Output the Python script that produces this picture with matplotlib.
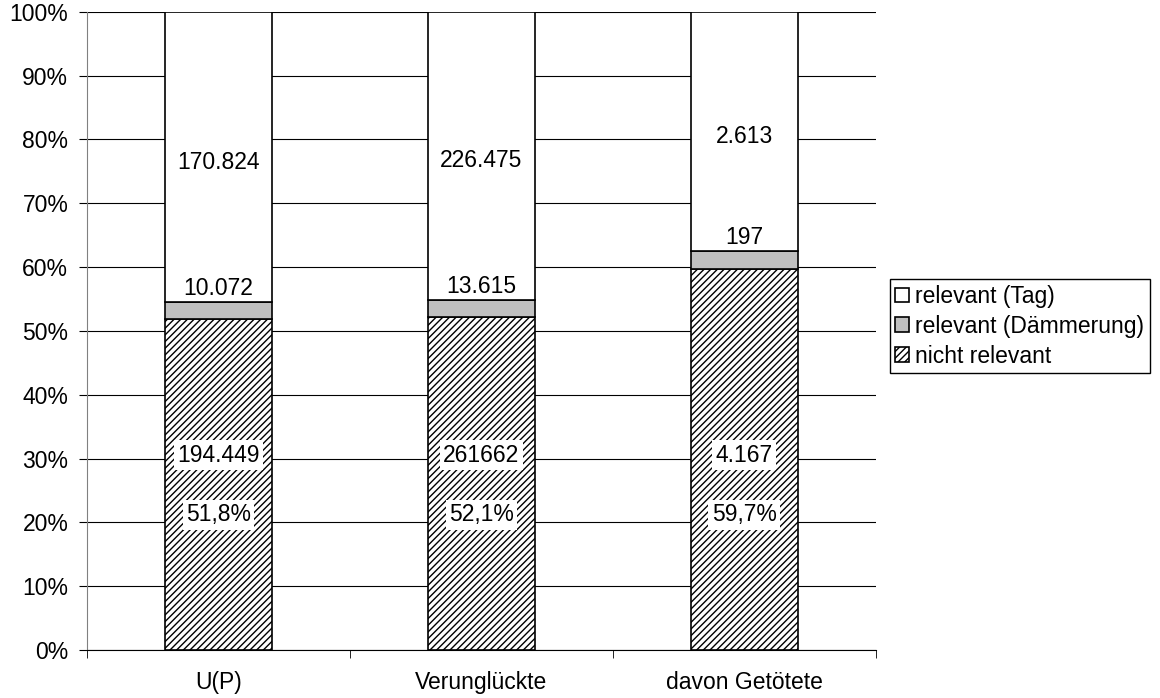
import matplotlib.pyplot as plt
import numpy as np

plt.rcParams['font.family'] = ['Liberation Sans', 'DejaVu Sans']
plt.rcParams['hatch.linewidth'] = 1.0

categories = ["U(P)", "Verunglückte", "davon Getötete"]
nicht_relevant = [194449, 261662, 4167]
daemmerung = [10072, 13615, 197]
tag = [170824, 226475, 2613]
nicht_labels = ["194.449", "261662", "4.167"]
daemm_labels = ["10.072", "13.615", "197"]
tag_labels = ["170.824", "226.475", "2.613"]

nr = np.array(nicht_relevant, dtype=float)
dm = np.array(daemmerung, dtype=float)
tg = np.array(tag, dtype=float)
total = nr + dm + tg
p_nr = nr / total * 100
p_dm = dm / total * 100
p_tg = tg / total * 100

fig = plt.figure(figsize=(11.6, 6.98), dpi=100)
ax = fig.add_axes([0.075, 0.0688, 0.68, 0.9142])

x = np.arange(len(categories))
w = 0.405
ax.bar(x, p_nr, w, color='white', edgecolor='black', hatch='/////', linewidth=1.2,
       label='nicht relevant', zorder=3)
ax.bar(x, p_dm, w, bottom=p_nr, color='#c0c0c0', edgecolor='black', linewidth=1.2,
       label='relevant (Dämmerung)', zorder=3)
ax.bar(x, p_tg, w, bottom=p_nr + p_dm, color='white', edgecolor='black', linewidth=1.2,
       label='relevant (Tag)', zorder=3)

fs = 16.5
box = dict(facecolor='white', edgecolor='none', pad=2.5)
for i in range(len(categories)):
    ax.text(x[i], 30.5, nicht_labels[i], ha='center', va='center', fontsize=fs, bbox=box, zorder=5)
    pct = f"{p_nr[i]:.1f}".replace('.', ',') + "%"
    ax.text(x[i], 21.2, pct, ha='center', va='center', fontsize=fs, bbox=box, zorder=5)
    ax.text(x[i], p_nr[i] + p_dm[i] + 0.3, daemm_labels[i], ha='center', va='bottom',
            fontsize=fs, zorder=5)
    ax.text(x[i], p_nr[i] + p_dm[i] + p_tg[i] / 2 - 0.8, tag_labels[i], ha='center', va='center',
            fontsize=fs, zorder=5)

ax.set_xlim(-0.5, 2.5)
ax.set_ylim(0, 100)
ax.set_yticks(np.arange(0, 101, 10))
ax.set_yticklabels([f"{v}%" for v in range(0, 101, 10)], fontsize=fs)
ax.set_xticks(x)
ax.set_xticklabels(categories, fontsize=fs)
ax.tick_params(axis='x', length=0, pad=15)
ax.set_xticks([-0.5, 0.5, 1.5, 2.5], minor=True)
ax.tick_params(axis='x', which='minor', length=5.5, direction='out', color='black')
ax.tick_params(axis='y', length=6, direction='out', color='black', pad=7.5)
ax.yaxis.grid(True, color='black', linewidth=0.8, zorder=0)
ax.set_axisbelow(True)
for s in ['top', 'right']:
    ax.spines[s].set_visible(False)
ax.spines['left'].set_color('#808080')
ax.spines['bottom'].set_color('black')

handles, labels = ax.get_legend_handles_labels()
leg = fig.legend(handles[::-1], labels[::-1], loc='upper left', bbox_to_anchor=(0.767, 0.600),
                 fontsize=fs, frameon=True, fancybox=False, edgecolor='black', framealpha=1,
                 handlelength=0.6, handleheight=0.6, handletextpad=0.25, labelspacing=0.3,
                 borderpad=0.25, borderaxespad=0)
leg.get_frame().set_linewidth(1.0)

fig.savefig('out.png', dpi=100)
